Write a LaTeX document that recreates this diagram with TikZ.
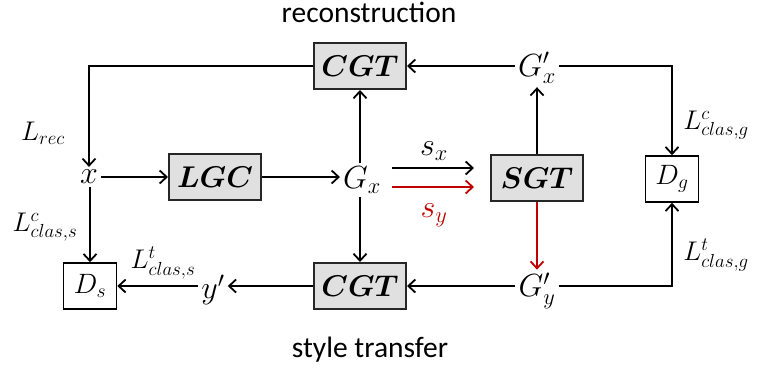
\RequirePackage{fix-cm}
\documentclass[tikz,border=0pt]{standalone}
\usepackage{bm}
\usepackage{fontspec}
\setmainfont{Carlito}
\usetikzlibrary{arrows.meta}
\definecolor{boxgray}{HTML}{E0E0E0}
\definecolor{myred}{HTML}{C00000}
\tikzset{
  arr/.style={line width=1.8pt,-{Straight Barb[length=7pt,width=13pt,line width=1.8pt]}},
  gbox/.style={draw=black!85,line width=2pt,fill=boxgray,minimum width=92pt,minimum height=46pt,inner sep=0pt,font=\fontsize{30}{32}\selectfont},
  wbox/.style={draw=black,line width=1.6pt,fill=white,minimum width=53pt,minimum height=46pt,inner sep=0pt,font=\fontsize{28}{30}\selectfont},
  var/.style={inner sep=3pt,font=\fontsize{32}{34}\selectfont},
  lab/.style={inner sep=0pt,font=\fontsize{27}{29}\selectfont},
  captext/.style={inner sep=0pt,font=\fontsize{29.5}{31}\selectfont}
}
\begin{document}
\begin{tikzpicture}[x=1pt,y=-1pt]
\useasboundingbox (0,0) rectangle (773,365);
% boxes
\node[gbox] (cgt1) at (360,66) {$\bm{CGT}$};
\node[gbox] (lgc) at (215,177) {$\bm{LGC}$};
\node[gbox] (sgt) at (537,178) {$\bm{SGT}$};
\node[gbox] (cgt2) at (360,286) {$\bm{CGT}$};
\node[wbox] (dg) at (672,179) {$D_g$};
\node[wbox] (ds) at (90,286) {$D_s$};
% variables
\node[var] (x) at (89,177) {$x$};
\node[var] (gx) at (362,180) {$G_x$};
\node[var] (gxp) at (537,68) {$G'_x$};
\node[var] (gyp) at (537,291) {$G'_y$};
\node[var] (yp) at (213,290) {$y'$};
% captions
\node[captext,anchor=base] (rec) at (369,22) {reconstruction};
\node[captext,anchor=base] (st) at (370,357) {style transfer};
% labels
\node[lab] (lrec) at (43,133) {$L_{rec}$};
\node[lab] (lcs) at (45,227) {$L^{c}_{clas,s}$};
\node[lab] (lts) at (163,263) {$L^{t}_{clas,s}$};
\node[lab] (lcg) at (716,125) {$L^{c}_{clas,g}$};
\node[lab] (ltg) at (716,255) {$L^{t}_{clas,g}$};
\node[var,inner sep=0pt] (sx) at (434,151) {$s_x$};
\node[var,inner sep=0pt,text=myred] (sy) at (434,215) {$s_y$};
% connectors
\draw[arr] (x) -- (lgc);
\draw[arr] (lgc.east) -- (lgc.east -| gx.west);
\draw[arr] (cgt1.south |- gx.north) -- (cgt1.south);
\draw[arr] (cgt2.north |- gx.south) -- (cgt2.north);
\draw[arr] (cgt1.west) -| (x.north);
\draw[arr] (ds.north |- x.south) -- (ds.north);
\draw[arr] (cgt1.east -| gxp.west) -- (cgt1.east);
\draw[arr] (sgt.north) -- (gxp.south);
\draw[arr] (cgt1.east -| gxp.east) -| (dg.north);
\draw[arr,shorten <=8pt,shorten >=16pt] ([yshift=10pt]sgt.west -| gx.east) -- ([yshift=10pt]sgt.west);
\draw[arr,myred,shorten <=8pt,shorten >=16pt] ([yshift=-9pt]sgt.west -| gx.east) -- ([yshift=-9pt]sgt.west);
\draw[arr,myred] (sgt.south) -- (gyp.north);
\draw[arr] (cgt2.east -| gyp.west) -- (cgt2.east);
\draw[arr] (cgt2.east -| gyp.east) -| (dg.south);
\draw[arr] (cgt2.west) -- (cgt2.west -| yp.east);
\draw[arr] (cgt2.west -| yp.west) -- (ds.east);
\end{tikzpicture}
\end{document}
